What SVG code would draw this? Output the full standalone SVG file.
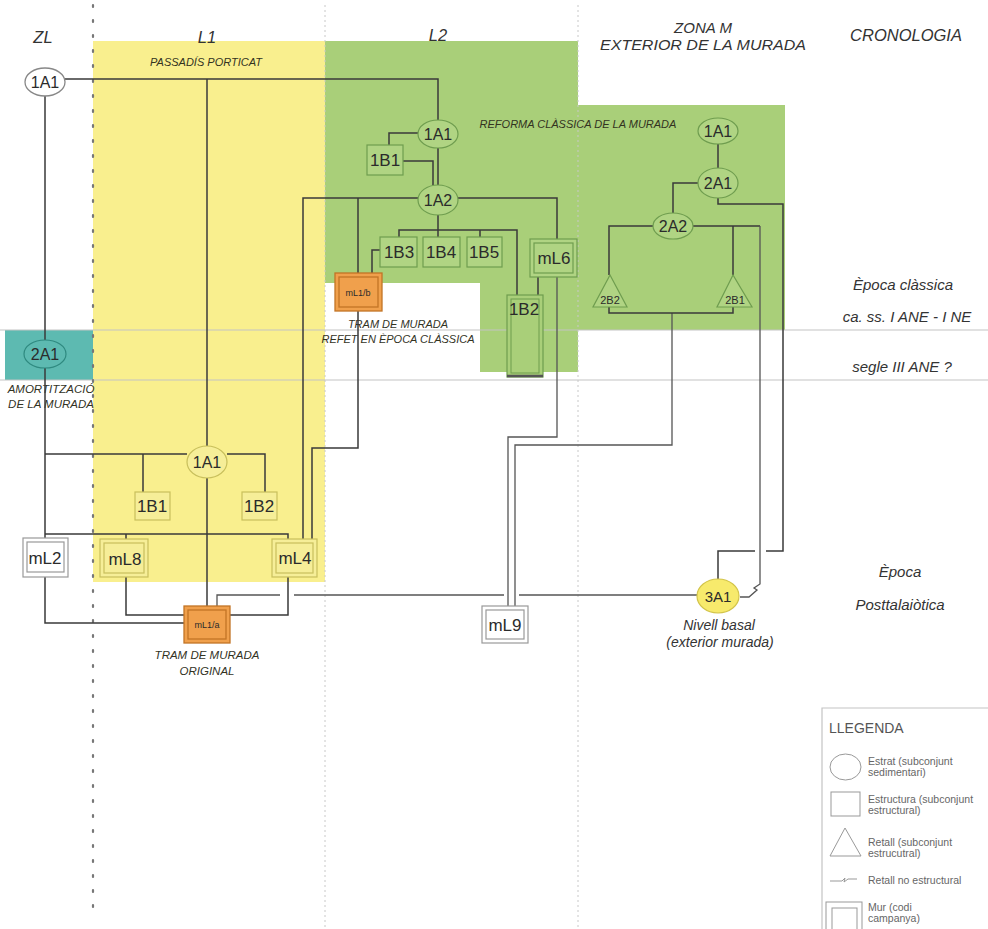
<svg xmlns="http://www.w3.org/2000/svg" width="988" height="929" viewBox="0 0 988 929">
<style>
.t{font-family:"Liberation Sans",Arial,sans-serif;fill:#2b2b2b;text-anchor:middle}
.n{font-size:16px}
.b{font-size:17px}
.s{font-size:9px}
.h{font-size:15px;font-style:italic;fill:#333}
.hh{font-size:16.5px;font-style:italic;fill:#333}
.c{font-size:11px;font-style:italic;fill:#33331f}
.ln{fill:none;stroke:#3a3a3a;stroke-width:1.5}
.lg{fill:none;stroke:#555;stroke-width:1.3}
.gN{fill:#b0d483;stroke:#6f9d4f;stroke-width:1.2}
.yN{fill:#f6ee98;stroke:#c8bf5c;stroke-width:1.2}
.wN{fill:#fff;stroke:#999;stroke-width:1.2}
.oN{fill:#f0a04c;stroke:#c27426;stroke-width:1.3}
.leg{font-family:"Liberation Sans",Arial,sans-serif;font-size:10.5px;fill:#666}
</style>
<rect width="988" height="929" fill="#fff"/>
<g id="background">
<rect x="93" y="41" width="232" height="541" fill="#f9ef8e"/>
<polygon points="325,41 578,41 578,105 785,105 785,330 578,330 578,372 480,372 480,283 325,283" fill="#a9cf79"/>
<rect x="5" y="330" width="88" height="50" fill="#5dbab1"/>
<line x1="0" y1="330" x2="988" y2="330" stroke="#c4c4c4" stroke-width="1.2"/>
<line x1="0" y1="380" x2="988" y2="380" stroke="#c4c4c4" stroke-width="1.2"/>
<line x1="93" y1="5" x2="93" y2="920" stroke="#777" stroke-width="2.2" stroke-dasharray="2 13" stroke-linecap="round"/>
<line x1="325" y1="5" x2="325" y2="929" stroke="#c8c8c8" stroke-width="1" stroke-dasharray="2 3"/>
<line x1="578" y1="5" x2="578" y2="929" stroke="#c8c8c8" stroke-width="1" stroke-dasharray="2 3"/>
</g>
<g id="headers">
<text class="t hh" x="43" y="43">ZL</text>
<text class="t hh" x="207" y="43">L1</text>
<text class="t hh" x="438" y="41">L2</text>
<text class="t h" x="703" y="33">ZONA M</text>
<text class="t h" x="703" y="50" textLength="206" lengthAdjust="spacingAndGlyphs">EXTERIOR DE LA MURADA</text>
<text class="t hh" x="906" y="41">CRONOLOGIA</text>
<text class="t c" x="206" y="66">PASSADÍS PORTICAT</text>
<text class="t c" x="578" y="128">REFORMA CLÀSSICA DE LA MURADA</text>
<text class="t c" x="51" y="393" style="font-size:11.5px">AMORTITZACIÓ</text>
<text class="t c" x="51" y="408" style="font-size:11.5px">DE LA MURADA</text>
<text class="t c" x="207" y="659" style="font-size:11.5px">TRAM DE MURADA</text>
<text class="t c" x="207" y="675" style="font-size:11.5px">ORIGINAL</text>
<text class="t c" x="398" y="328">TRAM DE MURADA</text>
<text class="t c" x="398" y="343">REFET EN ÈPOCA CLÀSSICA</text>
<text class="t h" x="903" y="290">Època clàssica</text>
<text class="t h" x="907" y="322">ca. ss. I ANE - I NE</text>
<text class="t h" x="902" y="372">segle III ANE ?</text>
<text class="t h" x="900" y="577">Època</text>
<text class="t h" x="900" y="610">Posttalaiòtica</text>
<text class="t h" x="719" y="630" style="font-size:14px">Nivell basal</text>
<text class="t h" x="720" y="647" style="font-size:14px">(exterior murada)</text>
</g>
<g id="connectors">
<path class="ln" d="M65,79 H438 V120"/>
<path class="ln" d="M207,79 V446"/>
<path class="ln" d="M45,96 V340 M45,368 V538"/>
<path class="ln" d="M45,454 H187 M227,454 H265 V492 M143,454 V492"/>
<path class="ln" d="M207,478 V606"/>
<path class="ln" d="M45,534 H288 V539 M126,534 V539"/>
<path class="ln" d="M45,577 V623 H184"/>
<path class="ln" d="M126,577 V615 H184"/>
<path class="ln" d="M288,577 V615 H230"/>
<path class="lg" d="M217,606 V595 H280 M294,595 H504 M519,595 H697"/>
<path class="ln" d="M389,145 V133 H418 M403,161 H433 V185 M438,148 V185"/>
<path class="ln" d="M303,539 V198 H418 M458,198 H557 V239"/>
<path class="ln" d="M358,198 V273"/>
<path class="ln" d="M438,215 V230 M399,237 V230 H517 V295 M438,230 V237 M480,230 V237"/>
<path class="ln" d="M538,277 V295"/>
<path class="ln" d="M380,250 H372 V273"/>
<path class="ln" d="M358,311 V448 H312 V539"/>
<path class="lg" d="M557,277 V437 H508 V606"/>
<path class="lg" d="M672,313 V445 H515 V606"/>
<path class="ln" d="M718,144 V168 M698,183 H673 V213"/>
<path class="ln" d="M718,198 V204 H783 V551 H766 M755,551 H718 V579"/>
<path class="ln" d="M653,226 H609 V275 M693,226 H760 M733,226 V275"/>
<path class="ln" d="M609,307 V313 H733 V307"/>
<path class="lg" d="M760,226 V584 L754,588 L757,590 L749,597 H740"/>
</g>
<g id="n-zl-1A1"><ellipse cx="45" cy="82" rx="20" ry="14" fill="#fff" stroke="#888" stroke-width="1.3"/><text class="t n" x="45" y="88">1A1</text></g>
<g id="n-zl-2A1"><ellipse cx="45" cy="354" rx="21" ry="14" fill="#5dbab1" stroke="#2f8a80" stroke-width="1.2"/><text class="t n" x="45" y="360">2A1</text></g>
<g id="n-zl-mL2"><rect x="23" y="538" width="45" height="39" class="wN"/><rect x="27" y="542" width="37" height="30" class="wN"/><text class="t b" x="45" y="564">mL2</text></g>
<g id="n-l1-1A1"><ellipse cx="207" cy="462" rx="20" ry="16" class="yN"/><text class="t n" x="207" y="468">1A1</text></g>
<g id="n-l1-1B1"><rect x="135" y="492" width="35" height="28" class="yN"/><text class="t b" x="152" y="512">1B1</text></g>
<g id="n-l1-1B2"><rect x="242" y="492" width="35" height="28" class="yN"/><text class="t b" x="259" y="512">1B2</text></g>
<g id="n-l1-mL8"><rect x="100" y="539" width="48" height="38" class="yN"/><rect x="104" y="543" width="40" height="30" class="yN"/><text class="t b" x="125" y="565">mL8</text></g>
<g id="n-l1-mL4"><rect x="272" y="539" width="45" height="38" class="yN"/><rect x="276" y="543" width="37" height="30" class="yN"/><text class="t b" x="295" y="564">mL4</text></g>
<g id="n-l1-mL1a"><rect x="184" y="606" width="46" height="37" class="oN"/><rect x="188" y="610" width="38" height="29" class="oN"/><text class="t s" x="207" y="628">mL1/a</text></g>
<g id="n-l2-1A1"><ellipse cx="438" cy="134" rx="20" ry="14" class="gN"/><text class="t n" x="438" y="140">1A1</text></g>
<g id="n-l2-1B1"><rect x="367" y="145" width="36" height="30" class="gN"/><text class="t b" x="385" y="166">1B1</text></g>
<g id="n-l2-1A2"><ellipse cx="438" cy="200" rx="20" ry="15" class="gN"/><text class="t n" x="438" y="206">1A2</text></g>
<g id="n-l2-1B3"><rect x="380" y="237" width="37" height="30" class="gN"/><text class="t b" x="399" y="258">1B3</text></g>
<g id="n-l2-1B4"><rect x="423" y="237" width="37" height="30" class="gN"/><text class="t b" x="441" y="258">1B4</text></g>
<g id="n-l2-1B5"><rect x="467" y="237" width="35" height="30" class="gN"/><text class="t b" x="484" y="258">1B5</text></g>
<g id="n-l2-mL6"><rect x="530" y="239" width="47" height="38" class="gN"/><rect x="534" y="243" width="39" height="30" class="gN"/><text class="t b" x="554" y="264">mL6</text></g>
<g id="n-l2-1B2"><rect x="507" y="295" width="36" height="82" fill="#a9cf79" stroke="#6f9d4f" stroke-width="1.2"/><rect x="511" y="299" width="28" height="74" fill="none" stroke="#6f9d4f" stroke-width="1"/><line x1="507" y1="376" x2="543" y2="376" stroke="#555" stroke-width="2.5"/><text class="t b" x="524" y="315">1B2</text></g>
<g id="n-l2-mL1b"><rect x="335" y="273" width="47" height="38" class="oN"/><rect x="339" y="277" width="39" height="30" class="oN"/><text class="t s" x="358" y="296">mL1/b</text></g>
<g id="n-l2-mL9"><rect x="482" y="606" width="46" height="37" class="wN"/><rect x="486" y="610" width="38" height="29" class="wN"/><text class="t b" x="505" y="631">mL9</text></g>
<g id="n-m-1A1"><ellipse cx="718" cy="131" rx="20" ry="13" class="gN"/><text class="t n" x="718" y="137">1A1</text></g>
<g id="n-m-2A1"><ellipse cx="718" cy="183" rx="20" ry="15" class="gN"/><text class="t n" x="718" y="189">2A1</text></g>
<g id="n-m-2A2"><ellipse cx="673" cy="226" rx="20" ry="13" class="gN"/><text class="t n" x="673" y="232">2A2</text></g>
<g id="n-m-2B2"><polygon points="610,275 593,307 627,307" class="gN"/><text class="t" x="610" y="304" style="font-size:11px">2B2</text></g>
<g id="n-m-2B1"><polygon points="733,275 717,307 752,307" class="gN"/><text class="t" x="735" y="304" style="font-size:11px">2B1</text></g>
<g id="n-m-3A1"><ellipse cx="718" cy="596" rx="21" ry="17" fill="#f7ea6c" stroke="#d2c44a" stroke-width="1.2"/><text class="t" x="718" y="602" style="font-size:15px">3A1</text></g>
<g id="legend">
<path d="M822,929 V708 H988" fill="none" stroke="#c4c4c4" stroke-width="1.2"/>
<text x="829" y="733" style="font-family:'Liberation Sans',Arial,sans-serif;font-size:14px;fill:#555">LLEGENDA</text>
<ellipse cx="845.5" cy="767" rx="15.5" ry="13" fill="none" stroke="#999" stroke-width="1"/>
<text class="leg" x="868" y="765">Estrat (subconjunt</text>
<text class="leg" x="868" y="776">sedimentari)</text>
<rect x="831" y="792" width="29" height="24" fill="none" stroke="#999" stroke-width="1"/>
<text class="leg" x="868" y="803">Estructura (subconjunt</text>
<text class="leg" x="868" y="814">estructural)</text>
<polygon points="845,828 830,856 861,856" fill="none" stroke="#999" stroke-width="1"/>
<text class="leg" x="868" y="846">Retall (subconjunt</text>
<text class="leg" x="868" y="857">estrucutral)</text>
<path d="M830,881 H842 L845,878 L844,882 L848,879 H857" fill="none" stroke="#999" stroke-width="1"/>
<text class="leg" x="868" y="884">Retall no estructural</text>
<rect x="826" y="902" width="36" height="40" fill="none" stroke="#999" stroke-width="1"/>
<rect x="832" y="908" width="25" height="30" fill="none" stroke="#999" stroke-width="1"/>
<text class="leg" x="868" y="911">Mur (codi</text>
<text class="leg" x="868" y="922">campanya)</text>
</g>
</svg>
